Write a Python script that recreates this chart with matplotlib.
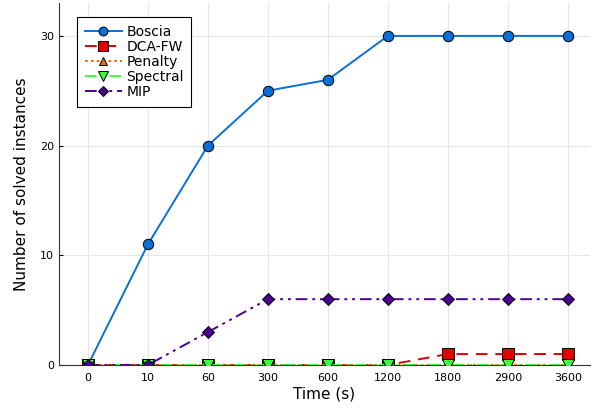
import matplotlib
matplotlib.use("agg")
import matplotlib.pyplot as plt

time_labels = ["0", "10", "60", "300", "600", "1200", "1800", "2900", "3600"]
boscia = [0, 11, 20, 25, 26, 30, 30, 30, 30]
dca_fw = [0, 0, 0, 0, 0, 0, 1, 1, 1]
penalty = [0, 0, 0, 0, 0, 0, 0, 0, 0]
spectral = [0, 0, 0, 0, 0, 0, 0, 0, 0]
mip = [0, 0, 3, 6, 6, 6, 6, 6, 6]

x = list(range(1, len(time_labels) + 1))

fig = plt.figure(figsize=(5.92, 4.09), dpi=100)
ax = fig.add_axes([59 / 592, 44 / 409, 531 / 592, 362 / 409])

# series order = drawing order, markers clipped at the axes like the GR backend
ax.plot(x, boscia, color="#0a6fd8", lw=1.4, ls="-", marker="o", ms=7.5,
        mec="black", mew=0.7, label="Boscia", zorder=3)
ax.plot(x, dca_fw, color="#e00000", lw=1.4, ls=(0, (6, 4)), marker="s", ms=8,
        mec="black", mew=0.7, label="DCA-FW", zorder=3.1)
ax.plot(x, penalty, color="#e0701a", lw=1.4, ls=(0, (1.5, 1.5)), marker="^", ms=7.5,
        mec="black", mew=0.7, label="Penalty", zorder=3.2)
ax.plot(x, spectral, color="#3cff3c", lw=1.4, ls=(0, (6, 2.5, 1.5, 2.5)), marker="v", ms=8,
        mec="black", mew=0.7, label="Spectral", zorder=3.3)
ax.plot(x, mip, color="#4b0090", lw=1.4, ls=(0, (6, 2.5, 1.5, 2.5, 1.5, 2.5)), marker="D", ms=6,
        mec="black", mew=0.7, label="MIP", zorder=3.4)

ax.set_xlim(0.517, 9.37)
ax.set_ylim(0, 33)
ax.set_xticks(x)
ax.set_xticklabels(time_labels)
ax.set_yticks([0, 10, 20, 30])
ax.tick_params(labelsize=8, length=3, width=0.8, direction="in", colors="black")
ax.tick_params(axis="x", length=0, pad=6)
ax.grid(True, color="#e6e6e6", lw=0.8)
ax.set_axisbelow(True)
for s in ["top", "right"]:
    ax.spines[s].set_visible(False)
for s in ["left", "bottom"]:
    ax.spines[s].set_color("#333333")
ax.set_xlabel("Time (s)", fontsize=11, labelpad=2)
ax.set_ylabel("Number of solved instances", fontsize=11, labelpad=8)

leg = ax.legend(loc="upper left", bbox_to_anchor=(0.034, 0.961), fontsize=10,
                fancybox=False, framealpha=1, edgecolor="black", handlelength=2.7,
                borderpad=0.55, labelspacing=0.08, handletextpad=0.3,
                borderaxespad=0.0, markerscale=0.85)
leg.get_frame().set_linewidth(0.8)

fig.savefig("out.png", dpi=100)
plt.close(fig)
